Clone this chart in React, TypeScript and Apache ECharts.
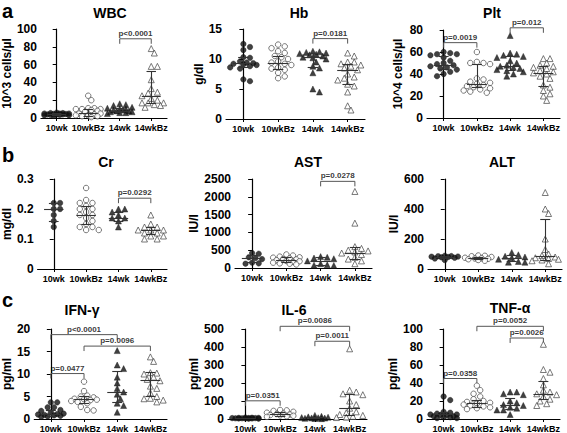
import React, { useEffect, useRef } from "react";
import * as echarts from "echarts";

const FONT = '"Liberation Sans", Arial, Helvetica, sans-serif';
const categories = ["10wk", "10wkBz", "14wk", "14wkBz"];

const panelTitles = ["WBC", "Hb", "Plt", "Cr", "AST", "ALT", "IFN-γ", "IL-6", "TNF-α"];
const yNames = ["10^3 cells/µl", "g/dl", "10^4 cells/µl", "mg/dl", "IU/l", "IU/l", "pg/ml", "pg/ml", "pg/ml"];
const yMax = [100, 15, 80, 0.3, 2500, 600, 20, 500, 100];
const yInterval = [20, 5, 20, 0.1, 500, 200, 5, 100, 20];

// ---- WBC ----
const wbcValues = [
  [6, 5.5, 5.5, 5, 5, 5, 4.5, 4.5, 4, 4, 4, 3.5, 3.5, 3, 3, 2.5],
  [25, 20, 11, 11, 10, 10, 10, 9, 8, 7, 5, 5, 4, 3, 3, 2, 2, 1],
  [16, 15, 14, 12, 11, 10, 10, 9, 9, 8, 8, 7, 7, 6, 6, 5],
  [78, 73, 58, 58, 43, 33, 29, 28, 25, 22, 20, 17, 17, 17, 15, 14, 12],
];
const wbcMedian = [4.5, 5, 8, 24];
const wbcQ1 = [3.5, 2.5, 6.5, 17];
const wbcQ3 = [5, 10, 11, 52];
const wbcBrackets = [[2, 3, "p<0.0001", 89]];

// ---- Hb ----
const hbValues = [
  [12.5, 12, 11.5, 10.3, 10.2, 9.6, 9.4, 9.3, 9.2, 9.1, 9, 8.8, 8.6, 8.4, 6.6, 6.3],
  [12.4, 12.1, 11.8, 11.3, 11, 10.5, 10.3, 10, 9.6, 9.4, 9.2, 9, 8.6, 8.4, 8.2, 7.7, 7.1, 6.8],
  [11.3, 11.2, 11.1, 11, 10.9, 10.8, 10.7, 10.5, 10.3, 10.2, 10, 9.5, 8.8, 8.5, 7.7, 5, 4.5],
  [11, 10.5, 9.5, 9.5, 9.2, 9, 8.8, 8.5, 8.2, 7.5, 7, 6.8, 6.5, 5.8, 5.5, 4.5, 2.2, 1.5],
];
const hbMedian = [9.3, 9.3, 10.3, 8.2];
const hbQ1 = [8.6, 8.3, 8.7, 5.8];
const hbQ3 = [10.3, 10.5, 11, 9.2];
const hbBrackets = [[2, 3, "p=0.0181", 13.4]];

// ---- Plt ----
const pltValues = [
  [60, 59, 58, 58, 57, 55, 52, 50, 49, 48, 47, 46, 45, 44, 42, 40, 38],
  [60, 51, 50, 50, 49, 36, 35, 33, 32, 31, 30, 29, 28, 27, 26, 25, 24, 23],
  [75, 59, 58, 57, 56, 55, 52, 50, 48, 47, 46, 45, 44, 43, 42, 40, 38],
  [54, 54, 50, 48, 47, 46, 45, 43, 42, 41, 40, 38, 36, 30, 28, 25, 22, 20, 16],
];
const pltMedian = [48, 31, 47, 41];
const pltQ1 = [44, 28, 43, 29];
const pltQ3 = [56, 49, 56, 47];
const pltBrackets = [[0, 1, "p=0.0019", 68.5], [2, 3, "p=0.012", 82]];

// ---- Cr ----
const crValues = [
  [0.22, 0.22, 0.2, 0.2, 0.18, 0.16, 0.14],
  [0.27, 0.23, 0.22, 0.22, 0.21, 0.2, 0.2, 0.19, 0.18, 0.18, 0.17, 0.16, 0.15, 0.14, 0.14, 0.13, 0.13],
  [0.2, 0.2, 0.19, 0.18, 0.17, 0.17, 0.16, 0.14],
  [0.18, 0.15, 0.14, 0.14, 0.13, 0.13, 0.13, 0.12, 0.12, 0.11, 0.11, 0.1, 0.1],
];
const crMedian = [0.2, 0.18, 0.17, 0.13];
const crQ1 = [0.16, 0.15, 0.16, 0.115];
const crQ3 = [0.22, 0.21, 0.19, 0.14];
const crBrackets = [[2, 3, "p=0.0292", 0.236]];

// ---- AST ----
const astValues = [
  [420, 400, 300, 280, 250, 150, 130, 120],
  [380, 350, 320, 300, 290, 270, 250, 240, 220, 200, 190, 170, 150, 130, 120, 100],
  [320, 300, 280, 260, 200, 120, 90, 80, 70],
  [2150, 1260, 600, 550, 500, 480, 450, 420, 380, 300, 250, 200, 120],
];
const astMedian = [270, 220, 200, 420];
const astQ1 = [150, 160, 90, 250];
const astQ3 = [350, 290, 290, 580];
const astBrackets = [[2, 3, "p=0.0278", 2434]];

// ---- ALT ----
const altValues = [
  [88, 86, 85, 83, 82, 80, 78, 75, 70, 60],
  [90, 88, 85, 80, 75, 72, 70, 68, 65, 60, 55],
  [110, 95, 85, 80, 75, 65, 50, 45, 45],
  [510, 400, 370, 200, 130, 100, 90, 80, 75, 70, 65, 60, 55, 35],
];
const altMedian = [80, 70, 75, 85];
const altQ1 = [75, 62, 50, 60];
const altQ3 = [85, 80, 90, 330];
const altBrackets: any[] = [];

// ---- IFN-γ ----
const ifnValues = [
  [3.7, 3.7, 2.6, 2.6, 2, 1.8, 1.5, 1.2, 1.1, 1, 0.9, 0.8, 0.7, 0.6, 0.5],
  [8.3, 6.2, 5.2, 5, 4.8, 4.5, 4.4, 4.3, 4.2, 4, 3.8, 3.5, 2.7, 2, 1.9],
  [15.2, 12, 11.2, 9.3, 8, 6.8, 6, 5.5, 4.5, 3.5, 3, 1.5],
  [13.8, 12.8, 10.3, 10.2, 10, 9.3, 8.8, 8.5, 7.3, 6.8, 5.8, 5, 4.6, 4.5, 4.2, 3.8],
];
const ifnMedian = [1.1, 4.4, 6, 8.6];
const ifnQ1 = [0.7, 3.6, 3.7, 5];
const ifnQ3 = [2, 5, 10.6, 10.4];
const ifnBrackets = [[0, 1, "p=0.0477", 10.1], [0, 2, "p<0.0001", 18.75], [1, 3, "p=0.0096", 16.2]];

// ---- IL-6 ----
const il6Values = [
  [8, 7, 6, 6, 5, 5, 5, 4, 4, 3, 3, 3, 2, 2],
  [50, 48, 45, 40, 35, 30, 28, 25, 22, 20, 18, 15, 12],
  [20, 15, 12, 10, 8, 7, 6, 5, 4, 3, 2],
  [390, 160, 150, 140, 135, 100, 80, 60, 40, 35, 25, 20, 15, 10, 8],
];
const il6Median = [5, 25, 7, 60];
const il6Q1 = [3, 18, 4, 20];
const il6Q3 = [6, 35, 12, 135];
const il6Brackets = [[0, 1, "p=0.0351", 101], [2, 3, "p=0.0011", 432], [1, 3, "p=0.0086", 515]];

// ---- TNF-α ----
const tnfValues = [
  [25, 21, 8, 7, 6, 5, 5, 4, 4, 3, 3, 2, 2, 1, 1],
  [37, 32, 28, 25, 22, 20, 19, 18, 17, 16, 15, 14, 13, 12, 11],
  [30, 30, 28, 27, 20, 18, 16, 15, 13, 12, 10, 10, 5],
  [83, 55, 52, 45, 38, 32, 30, 28, 27, 25, 22, 20, 17, 15],
];
const tnfMedian = [5, 17, 15, 28];
const tnfQ1 = [2, 13, 11, 22];
const tnfQ3 = [7, 21, 23, 42];
const tnfBrackets = [[0, 1, "p=0.0358", 45], [2, 3, "p=0.0026", 90], [1, 3, "p=0.0052", 103]];

const allValues = [wbcValues, hbValues, pltValues, crValues, astValues, altValues, ifnValues, il6Values, tnfValues];
const allMedian = [wbcMedian, hbMedian, pltMedian, crMedian, astMedian, altMedian, ifnMedian, il6Median, tnfMedian];
const allQ1 = [wbcQ1, hbQ1, pltQ1, crQ1, astQ1, altQ1, ifnQ1, il6Q1, tnfQ1];
const allQ3 = [wbcQ3, hbQ3, pltQ3, crQ3, astQ3, altQ3, ifnQ3, il6Q3, tnfQ3];
const allBrackets = [wbcBrackets, hbBrackets, pltBrackets, crBrackets, astBrackets, altBrackets, ifnBrackets, il6Brackets, tnfBrackets];

// layout (px): left, top, width, height
const grids = [
  [32, 29, 135, 89], [226, 29, 139, 90], [427, 30, 133, 88],
  [32, 179, 135, 90], [235, 179, 137, 89], [428, 179, 134, 90],
  [30, 329, 137, 91], [228, 329, 139, 91], [427, 329, 133, 91],
];
const titlePos = [
  [110, 13], [299, 13], [492, 13],
  [106, 162], [308, 162], [502, 162],
  [82, 310], [294, 310], [510, 308],
];
const nameGaps = [18, 15, 23, 19, 32, 25, 16, 25, 25];

const markerSymbols = ["circle", "circle", "triangle", "triangle"];
const markerFilled = [true, false, true, false];

function swarm(vals: number[], pxPerUnit: number, catPx: number, dia: number): number[] {
  const order = vals.map((_, i) => i).sort((a, b) => vals[b] - vals[a]);
  const placed: { x: number; y: number }[] = [];
  const xs = new Array(vals.length).fill(0);
  const step = dia * 0.6;
  const maxOff = catPx * 0.4;
  const cands: number[] = [0];
  for (let k = 1; k * step <= maxOff; k++) { cands.push(k * step, -k * step); }
  for (const i of order) {
    const y = vals[i] * pxPerUnit;
    let chosen = 0;
    let bestScore = -1;
    let found = false;
    for (const c of cands) {
      let minD = Infinity;
      for (const p of placed) {
        const d = Math.hypot(p.x - c, p.y - y);
        if (d < minD) minD = d;
      }
      if (minD >= dia * 0.95) { chosen = c; found = true; break; }
      if (minD > bestScore) { bestScore = minD; chosen = c; }
    }
    if (!found && bestScore < 0) chosen = 0;
    placed.push({ x: chosen, y });
    xs[i] = chosen / catPx;
  }
  return xs;
}

export default function App() {
  const ref = useRef<HTMLDivElement>(null);
  useEffect(() => {
    if (!ref.current) return;
    const chart = echarts.init(ref.current, null, { renderer: "svg" });
    const gridOpts: any[] = [];
    const xAxes: any[] = [];
    const yAxes: any[] = [];
    const series: any[] = [];
    const graphics: any[] = [];

    grids.forEach((g, gi) => {
      const [l, t, w, h] = g;
      gridOpts.push({ left: l, top: t, width: w, height: h, containLabel: false });
      xAxes.push({
        type: "category", gridIndex: gi, data: categories, position: "bottom",
        axisLine: { lineStyle: { color: "#000", width: 1.2 } },
        axisTick: { show: true, alignWithLabel: true, length: 3, lineStyle: { color: "#000" } },
        axisLabel: { interval: 0, fontSize: 9, fontWeight: "bold", color: "#000", margin: 5, fontFamily: FONT },
        splitLine: { show: false },
      });
      xAxes.push({ type: "value", gridIndex: gi, min: -0.5, max: 3.5, show: false });
      yAxes.push({
        type: "value", gridIndex: gi, min: 0, max: yMax[gi], interval: yInterval[gi],
        name: yNames[gi], nameLocation: "middle", nameRotate: 90, nameGap: nameGaps[gi],
        nameTextStyle: { fontSize: 12, fontWeight: "bold", color: "#000", fontFamily: FONT },
        axisLine: { show: true, lineStyle: { color: "#000", width: 1.2 } },
        axisTick: { show: true, length: 4, lineStyle: { color: "#000" } },
        axisLabel: {
          fontSize: 12, fontWeight: "bold", color: "#000", margin: 4, fontFamily: FONT,
          formatter: (v: number) => String(Math.round(v * 1000) / 1000),
        },
        splitLine: { show: false },
      });
      const xIdx = gi * 2 + 1;
      const pxPerUnit = h / yMax[gi];
      const catPx = w / 4;
      allValues[gi].forEach((vals, ci) => {
        const offs = swarm(vals, pxPerUnit, catPx, 5.5);
        series.push({
          type: "scatter", xAxisIndex: xIdx, yAxisIndex: gi, clip: false, silent: true,
          symbol: markerSymbols[ci], symbolSize: markerSymbols[ci] === "triangle" ? 6 : 5.5,
          itemStyle: markerFilled[ci]
            ? { color: "#111", borderColor: "#111", borderWidth: 0.5 }
            : { color: "#fff", borderColor: "#444", borderWidth: 0.9 },
          data: vals.map((v, i) => [ci + offs[i], v]),
        });
      });
      const segs: number[][][] = [];
      for (let ci = 0; ci < 4; ci++) {
        const m = allMedian[gi][ci], a = allQ1[gi][ci], b = allQ3[gi][ci];
        segs.push([[ci - 0.3, m], [ci + 0.3, m]]);
        segs.push([[ci, a], [ci, b]]);
        segs.push([[ci - 0.15, a], [ci + 0.15, a]]);
        segs.push([[ci - 0.15, b], [ci + 0.15, b]]);
      }
      series.push({
        type: "lines", coordinateSystem: "cartesian2d", xAxisIndex: xIdx, yAxisIndex: gi,
        clip: false, silent: true, z: 3,
        lineStyle: { color: "#333", width: 1.1, opacity: 1 },
        data: segs.map((c) => ({ coords: c })),
      });
      const br = allBrackets[gi];
      if (br.length) {
        const leg = 5 / pxPerUnit;
        series.push({
          type: "lines", coordinateSystem: "cartesian2d", xAxisIndex: xIdx, yAxisIndex: gi,
          polyline: true, clip: false, silent: true,
          lineStyle: { color: "#555", width: 1, opacity: 1 },
          data: br.map((b: any) => ({ coords: [[b[0], b[3] - leg], [b[0], b[3]], [b[1], b[3]], [b[1], b[3] - leg]] })),
        });
        series.push({
          type: "scatter", xAxisIndex: xIdx, yAxisIndex: gi, clip: false, silent: true, z: 5,
          symbol: "circle", symbolSize: 1, itemStyle: { color: "rgba(0,0,0,0)" },
          label: { show: true, position: "top", distance: 1, fontSize: 8, fontWeight: "bold", color: "#000", fontFamily: FONT, formatter: (p: any) => p.data.t },
          labelLayout: { hideOverlap: false },
          data: br.map((b: any) => ({ value: [(b[0] + b[1]) / 2, b[3]], t: b[2] })),
        });
      }
      graphics.push({
        type: "text", x: titlePos[gi][0], y: titlePos[gi][1],
        style: { text: panelTitles[gi], font: `bold 14px ${FONT}`, fill: "#000", textAlign: "center", textVerticalAlign: "middle", align: "center", verticalAlign: "middle" },
      });
    });
    [["a", 11], ["b", 155], ["c", 300]].forEach(([s, y]) => {
      graphics.push({
        type: "text", x: 2, y: y as number,
        style: { text: s as string, font: `bold 20px ${FONT}`, fill: "#000", textAlign: "left", textVerticalAlign: "middle", align: "left", verticalAlign: "middle" },
      });
    });

    chart.setOption({
      animation: false,
      backgroundColor: "#fff",
      textStyle: { fontFamily: FONT },
      grid: gridOpts,
      xAxis: xAxes,
      yAxis: yAxes,
      series,
      graphic: graphics,
    });
    return () => chart.dispose();
  }, []);
  return <div ref={ref} style={{ position: "fixed", left: 0, top: 0, width: 567, height: 433 }} />;
}
